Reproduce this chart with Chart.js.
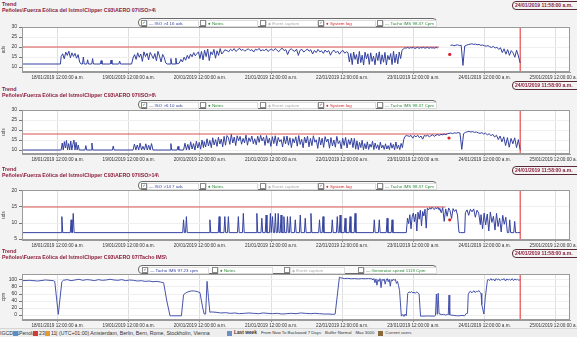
<!DOCTYPE html>
<html>
<head>
<meta charset="utf-8">
<script src="https://cdn.jsdelivr.net/npm/chart.js@4.4.1/dist/chart.umd.min.js"></script>
<style>
  html, body { margin: 0; padding: 0; background: #f3f3f3; }
  #wrap { position: relative; width: 577px; height: 337px; overflow: hidden; background: #f3f3f3;
          font-family: "Liberation Sans", Arial, sans-serif; }
  .abs { position: absolute; white-space: nowrap; line-height: 1; }
  .ttl { left: 2px; color: #8c1c3c; font-weight: bold; font-size: 5.3px; }
  .date { position: absolute; left: 512px; width: 72px; height: 7px; border: 1px solid #5a2a3a; border-radius: 4px;
          color: #8c1c3c; font-weight: bold; font-size: 5px; line-height: 7px; padding-left: 2px; white-space: nowrap; }
  .leg { position: absolute; left: 138px; width: 297px; height: 7px; border: 1px solid #6a6a6a; border-radius: 4px; background: #fafafa; }
  .leg .fld { position: absolute; top: 1px; height: 5px; border: 1px solid #dcdcdc; background: #fff;
              font-size: 4.4px; line-height: 5px; white-space: nowrap; padding-left: 1px; overflow: hidden; }
  .leg .cb { position: absolute; top: 1px; width: 4px; height: 4px; border: 1px solid #8a8a8a; background: #fff;
             font-size: 4px; line-height: 4px; text-align: center; color: #222; font-family: "DejaVu Sans"; }
  canvas { position: absolute; left: 0; }
  #status { position: absolute; left: 0; top: 328px; width: 577px; height: 9px; background: #eeeeee; border-top: 1px solid #d6d6d6;
            font-size: 5.2px; color: #333; }
  #status .s { position: absolute; top: 2px; white-space: nowrap; line-height: 1; }
  #status .ic { position: absolute; top: 2px; width: 5px; height: 5px; }
  #status .row { position: absolute; top: 2px; left: 227px; display: flex; align-items: center; white-space: nowrap; line-height: 1; font-size: 4.3px; }
  #status .row span { margin-right: 4px; }
  #status .row b { font-size: 4.8px; }
  #status .row i { display: inline-block; width: 5px; height: 5px; margin-right: 2px; }
</style>
</head>
<body>
<div id="wrap"></div>
<script>
// ---- time axis: days counted from 18/01/2019 00:00 ----
const dayTicks = [0, 1, 2, 3, 4, 5, 6, 7];
const dayLabels = [
  '18/01/2019 12:00:00 a.m.', '19/01/2019 12:00:00 a.m.', '20/01/2019 12:00:00 a.m.', '21/01/2019 12:00:00 a.m.',
  '22/01/2019 12:00:00 a.m.', '23/01/2019 12:00:00 a.m.', '24/01/2019 12:00:00 a.m.', '25/01/2019 12:00:00 a.m.'
];
const viewStart = -0.5;     // 17/01/2019 12:00
const viewEnd = 7.2;
const nowDay = 6.5;         // 24/01/2019 11:58:00 a.m.
const nowLabel = '24/01/2019 11:58:00 a.m.';

// ---- series: runs of [from day, to day, samples] ----
const iso4Runs = [
  [-0.5, 0.04, [11.5, 11.5]],
  [0.05, 0.31, [15.2, 16.6, 14.1, 17.4, 15.8, 17.9, 14.6, 17.1, 15.3, 16.8, 14.4, 16.2, 12.5]],
  [0.33, 0.33, [11.5]],
  [0.35, 0.374, [11.5, 15, 11.5]],
  [0.41, 0.434, [11.5, 13.6, 11.5]],
  [0.48, 0.504, [11.5, 14.2, 11.5]],
  [0.60, 0.624, [11.5, 13.2, 11.5]],
  [0.74, 0.764, [11.5, 13.5, 11.5]],
  [0.86, 0.884, [11.5, 13, 11.5]],
  [1.04, 1.04, [11.5]],
  [1.06, 1.52, [14.5, 16.2, 13.8, 17.1, 14.9, 16.5, 12.8, 17.6, 15.2, 16.9, 13.5, 17.3, 15.8, 14.2, 16.7, 13.1, 17.8, 15.4, 12.5, 16.3, 14.8, 12]],
  [1.54, 1.54, [11.5]],
  [1.58, 1.604, [11.5, 14.2, 11.5]],
  [1.65, 1.674, [11.5, 14.5, 11.5]],
  [1.71, 1.98, [12, 13.8, 12.5, 14.9, 13.4, 15.8, 14.2, 16.5, 15.1, 17.2, 15.6, 16.8, 17.5]],
  [2.0, 2.35, [14.2, 17.8, 13.5, 18.4, 15.2, 19, 13.2, 17.6, 16.2, 18.8, 14.4, 18.1, 15.8, 19.2, 16.5, 17.4, 18.6]],
  [2.38, 4.06, [18.2, 17.6, 18.9, 18.1, 19.2, 17.8, 18.5, 19.4, 18.3, 18.8, 17.9, 18.6, 19.1, 18.2, 18.7, 17.5, 18.9, 18.4,
                19.3, 18, 18.6, 18.2, 19, 17.8, 18.5, 18.9, 18.1, 19.2, 18.4, 17.6, 18.8, 19.4, 18.2, 18.7, 16.2, 18.5, 19.1,
                18.3, 17.8, 18.9, 15.8, 18.4, 18.8, 17.5, 18.2, 19, 17.9, 18.6, 16.5, 18.3, 17.2, 18.8, 17.6, 18.1, 16.8,
                18.5, 17.4, 18.2, 15.9, 17.8, 18.4, 17.1, 18, 16.4, 17.7, 18.3, 16.9, 17.6]],
  [4.08, 4.88, [17.2, 12.5, 16.8, 11.2, 17.5, 13.8, 16.2, 11.5, 17.8, 12.2, 15.9, 11, 17.4, 14.1, 16.6, 11.3, 17.1, 12.8,
                15.4, 11.1, 16.9, 13.2, 17.6, 11.4, 16.1, 12.4, 17.3, 11, 15.8, 13.6, 16.7, 11.2, 17.9, 12.1, 16.4, 11.6,
                17.5, 14.2, 18.3, 19.1, 19.6]],
  [4.9, 5.34, [19.4, 19.8, 19.3, 19.7, 19.5, 19.9, 19.2, 19.6, 19.8, 19.3, 19.7, 19.5, 19.9, 19.4, 19.6, 19.8, 19.3, 19.7,
               19.5, 19.6, 19.4, 19.8, 19.5]],
  [5.38, 5.38, null],
  [5.52, 6.5, [20.8, 21, 20.6, 20.9, 21.1, 20.7, 20.9, 10.8, 20.5, 20.9, 21.2, 21.4, 21.6, 21.3, 21.5, 21.1, 21.3, 20.8,
               21, 20.6, 20.4, 20.7, 20.1, 19.8, 20.3, 19.5, 19.9, 18.8, 19.6, 17.2, 19.1, 16.4, 18.7, 15.8, 18.2, 17.1,
               14.9, 18.4, 15.5, 12]]
];
const iso4Limit = 20, iso4LimitEnd = 5.36;
const iso4Log = [[5.51, 16.3]];

const iso6Runs = [
  [-0.5, 0.04, [10, 10]],
  [0.05, 0.305, [10, 13.5, 10, 14.2, 11, 14.8, 10, 13.2, 10, 14.5, 10, 12.8, 15, 10, 13.9, 10, 12.5, 10]],
  [0.385, 0.409, [10, 12.2, 10]],
  [0.47, 0.494, [10, 13.5, 10]],
  [0.77, 0.794, [10, 12, 10]],
  [1.06, 1.34, [10, 13, 10, 12.5, 10, 13.4, 10, 11.8, 10, 13.1, 10, 12.4, 10, 13.2, 10]],
  [1.58, 1.604, [10, 13.2, 10]],
  [1.68, 1.704, [10, 11.8, 10]],
  [1.77, 2.05, [10, 13.4, 10, 12.8, 10, 14.1, 10.5, 13.2, 10, 14.4, 11, 13.8, 10.4, 15, 11.2]],
  [2.06, 2.38, [14.2, 11.5, 15.6, 12, 14.8, 11.2, 16.1, 12.5, 15.2, 11.8, 16.4, 13, 15.5, 11.6, 16.8, 12.4, 17.2]],
  [2.4, 4.15, [16.2, 12.8, 17.8, 13.5, 16.5, 12.2, 17.1, 14.6, 16.8, 12.9, 15.8, 13.6, 17.4, 12.4, 16.1, 14.2, 17, 13.1,
               15.6, 12.6, 16.9, 13.8, 17.3, 14.5, 16.4, 12.3, 17.2, 13.4, 15.9, 11.8, 16.7, 13.2, 17.1, 12.1, 16.3, 14.1,
               15.2, 11.5, 16.8, 13, 17, 12.4, 16.1, 11.2, 15.7, 13.6, 16.6, 11.9, 17.2, 12.8, 15.4, 11.1, 16.5, 13.5,
               16.9, 11.6, 15.8, 12.2, 17.1, 13.9, 15.1, 10.8, 16.4, 12.5, 15.9, 11.3, 16.7, 14, 15.5, 10.9, 16.2, 12,
               15, 11.4, 16.8, 13.2, 14.6, 10.6, 15.9, 12.3, 16.3, 11, 15.2, 12.7, 16, 11.2]],
  [4.17, 4.9, [15.8, 10.4, 14.6, 10.2, 13.8, 11.2, 14.9, 10.1, 13.2, 10.6, 14.1, 10.3, 12.9, 11.4, 14.4, 10.2, 13.5, 10.8,
               12.6, 10.1, 13.9, 11, 12.4, 10.3, 13.1, 10.5, 12.2, 10.2, 13.6, 10.9, 12.8, 10.1, 14, 10.7, 12.5, 10.2,
               13.3, 11.2, 15.2, 16.8, 17.2]],
  [4.92, 5.48, [17.1, 16.8, 17.3, 15.9, 17.2, 16.6, 17.4, 16.2, 17, 15.4, 17.3, 16.9, 17.5, 16.5, 17.2, 17.6, 16.8, 17.4,
                17.7, 17.3, 17.8, 17.6, 18, 17.7, 18.2]],
  [5.5, 6.5, [18.3, 18.5, 18.2, 18.6, 18.4, 18.7, 18.5, 10.3, 18.2, 18.8, 19.1, 19.3, 19, 19.2, 18.8, 19, 18.6, 18.3, 18.7,
              18, 18.4, 17.6, 18.1, 17.2, 17.8, 16.5, 17.4, 15.2, 17, 14.1, 16.6, 12.2, 16.2, 11.4, 15.8, 13.1, 16.1,
              11.2, 15.2, 10.1]]
];
const iso6Limit = 18, iso6LimitEnd = 5.48;
const iso6Log = [[5.5, 16]];

// ISO>14: short bursts above the 7 uds base level
const iso14Base = 7;
const iso14Spikes = [
  [0.06, 12], [0.19, 11], [0.22, 13], [1.77, 11], [1.81, 12], [2.14, 11], [2.27, 12], [2.35, 12], [2.40, 12],
  [2.54, 12], [2.61, 13], [2.80, 13], [2.87, 11.5], [2.93, 12.5], [2.99, 13], [3.02, 12], [3.06, 13], [3.10, 13],
  [3.14, 12.5], [3.18, 12], [3.23, 12], [3.27, 12], [3.34, 11], [3.41, 12.5], [3.48, 11.5], [3.56, 13], [3.68, 11],
  [3.73, 12], [3.86, 11], [3.93, 12], [3.97, 12.5], [4.04, 11.5], [4.11, 12], [4.18, 13], [4.45, 11], [4.52, 11],
  [4.63, 11.5], [4.70, 11]
];
const iso14Runs = [
  [4.9, 5.36, [7, 11.5, 9.8, 12.6, 8.2, 11.9, 13.1, 10.4, 12.8, 7.5, 13.4, 11.2, 14, 9.1, 13.6, 12.2, 14.3, 8.4, 14.6,
               14.1, 14.8, 14.3, 14.9, 14.5, 14.2, 14.8, 14.4, 14.9, 14.1]],
  [5.37, 5.64, [14.6, 13.2, 14.8, 10.5, 14.4, 12.1, 14.7, 13.8, 11.4, 14.5, 13.6, 14.2, 12.5, 7.1]],
  [5.66, 5.72, [7, 7]],
  [5.73, 5.94, [13.2, 14.1, 12.4, 14.3, 13.5, 14.4, 11.8, 14, 13.1, 9.5]],
  [5.95, 6.32, [12.6, 8.2, 13.1, 9.4, 12.8, 7.5, 13.4, 10.2, 12.1, 7.8, 13, 8.9, 11.5, 7.2, 12.4, 9.6, 11.8, 7]],
  [6.34, 6.366, [7, 11, 7]],
  [6.41, 6.436, [7, 10.5, 7]],
  [6.46, 6.5, [7, 7]]
];
const iso14Limit = 15, iso14LimitEnd = 5.45;
const iso14Log = [[5.51, 11]];

const tachoRuns = [
  [-0.5, -0.06, [98, 99, 97, 100, 98]],
  [-0.04, 0.06, [96, 2, 95]],
  [0.08, 1.45, [99, 101, 98, 100, 102, 99, 101, 100, 98, 101, 99, 100, 102, 100, 99, 101, 98, 100, 99, 97, 98, 96, 97, 95, 96, 94]],
  [1.49, 1.58, [92, 40, -2]],
  [1.6, 1.74, [-2, -2]],
  [1.77, 2.0, [58, 64, 67, 69, 68.5, 67, 64]],
  [2.04, 2.06, [20, 3]],
  [2.08, 2.14, [3, 96, 50, 8]],
  [2.16, 3.88, [9, 8, 6, 7, 5, 6, 4, 5, 6, 5, 4, 6, 5, 4, 5, 3, 4, 5, 4, 6, 5, 4, 5, 4, 3, 3, 2]],
  [3.9, 3.96, [3, 108]],
  [3.98, 4.42, [106, 104, 104.5, 103.5, 104, 103, 104, 103.5, 104.2, 103]],
  [4.43, 4.79, [100, 104, 92, 103, 85, 101, 96, 104, 78, 102, 98, 103, 88, 100, 104, 95, 102, 82, 101, 97, 103, 99, 102, 90, 96, 85]],
  [4.805, 4.83, [70, -3]],
  [4.85, 4.9, [2, -4, 3, -2]],
  [4.92, 5.08, [62, 66, 64, 67, 63, 65, 62, 66, 64, 60]],
  [5.1, 5.3, [-3, -2.5, -3]],
  [5.31, 5.36, [0, 60, 2, 62, 4]],
  [5.37, 5.48, [3, 1, 2, 0, 2]],
  [5.49, 5.51, [1, 57, 1]],
  [5.53, 5.72, [0, -1, -2, -2, -1, -2]],
  [5.74, 5.76, [4, 5]],
  [5.77, 5.95, [58, 66, 68, 63, 67, 69, 64, 68, 66, 70, 65, 62]],
  [5.96, 5.99, [30, 3]],
  [6.01, 6.04, [50, 100]],
  [6.05, 6.5, [102, 98, 104, 99, 103, 97, 104, 100, 103, 98, 102, 101, 104, 97, 103, 100, 102, 99, 104, 98, 103, 100, 102, 99, 101]]
];

const iso4Ticks = [10, 15, 20, 25, 30];
const iso6Ticks = [10, 15, 20, 25, 30];
const iso14Ticks = [5, 10, 15, 20];
const tachoTicks = [0, 20, 40, 60, 80, 100];

const panelPaths = [
  'Peñoles\\Fuerza Eólica del Istmo\\Clipper C93\\AERO 07\\ISO>4\\',
  'Peñoles\\Fuerza Eólica del Istmo\\Clipper C93\\AERO 07\\ISO>6\\',
  'Peñoles\\Fuerza Eólica del Istmo\\Clipper C93\\AERO 07\\ISO>14\\',
  'Peñoles\\Fuerza Eólica del Istmo\\Clipper C93\\AERO 07\\Tacho IMS\\'
];
const seriesNames = ['ISO >4 16 uds', 'ISO >6 10 uds', 'ISO >14 7 uds', 'Tacho IMS 97.23 cpm'];

// ---- helpers ----
const BLUE = '#3442a0', RED = '#d8262b', GREEN = '#2e8a3a', MAROON = '#8c1c3c';

function runsToPoints(runs) {
  const pts = [];
  for (const [t0, t1, vals] of runs) {
    if (vals === null) { pts.push({ x: t0, y: null }); continue; }
    const n = vals.length;
    vals.forEach((v, i) => pts.push({ x: n > 1 ? t0 + (t1 - t0) * i / (n - 1) : t0, y: v }));
  }
  return pts;
}

function spikesToRuns(base, spikes, extra) {
  const runs = [[-0.5, -0.5, [base]]];
  spikes.forEach(([t, h]) => runs.push([t - 0.012, t + 0.012, [base, h, base]]));
  return runs.concat(extra);
}

const wrap = document.getElementById('wrap');

function addEl(tag, cls, style, html) {
  const el = document.createElement(tag);
  if (cls) el.className = cls;
  Object.assign(el.style, style);
  if (html !== undefined) el.innerHTML = html;
  wrap.appendChild(el);
  return el;
}

function header(top, path) {
  addEl('div', 'abs ttl', { top: top + 'px' }, 'Trend');
  addEl('div', 'abs ttl', { top: (top + 6) + 'px' }, path);
}

function dateBox(top) {
  addEl('div', 'date', { top: top + 'px' }, nowLabel);
}

function legendBox(top, items) {
  const box = addEl('div', 'leg', { top: top + 'px' });
  for (const it of items) {
    const cb = document.createElement('div');
    cb.className = 'cb';
    cb.style.left = (it.x - 138) + 'px';
    cb.textContent = it.checked ? '✓' : '';
    box.appendChild(cb);
    const f = document.createElement('div');
    f.className = 'fld';
    f.style.left = (it.x - 138 + 6) + 'px';
    f.style.width = it.w + 'px';
    f.style.color = it.color;
    f.innerHTML = '<span style="color:' + it.markColor + '">' + it.mark + '</span> ' + it.text;
    box.appendChild(f);
  }
}

// plot frame and white plotting background
const framePlugin = {
  id: 'frame',
  beforeDraw(chart) {
    const { ctx, chartArea: a } = chart;
    ctx.save();
    ctx.fillStyle = '#ffffff';
    ctx.fillRect(a.left, a.top, a.right - a.left, a.bottom - a.top);
    ctx.restore();
  },
  afterDraw(chart) {
    const { ctx, chartArea: a } = chart;
    ctx.save();
    ctx.strokeStyle = '#9a9a9a';
    ctx.lineWidth = 1;
    ctx.strokeRect(Math.round(a.left) + 0.5, Math.round(a.top) + 0.5, Math.round(a.right - a.left) - 1, Math.round(a.bottom - a.top) - 1);
    ctx.restore();
  }
};

function panelChart(top, height, cfg) {
  const cv = document.createElement('canvas');
  cv.width = 577; cv.height = height;
  cv.style.top = top + 'px';
  wrap.appendChild(cv);

  const datasets = [];
  if (cfg.log) datasets.push({
    data: cfg.log.map(([x, y]) => ({ x, y })), showLine: false, pointRadius: 1.6, pointBackgroundColor: RED,
    pointBorderWidth: 0, borderColor: RED
  });
  datasets.push({ data: runsToPoints(cfg.runs), borderColor: cfg.lineColor || BLUE, borderWidth: 1, pointRadius: 0, spanGaps: false });
  if (cfg.limit !== undefined) datasets.push({
    data: [{ x: viewStart, y: cfg.limit }, { x: cfg.limitEnd, y: cfg.limit }], borderColor: '#d9534f', borderWidth: 1, pointRadius: 0
  });
  datasets.push({ data: [{ x: nowDay, y: cfg.min }, { x: nowDay, y: cfg.max }], borderColor: '#e0282c', borderWidth: 1, pointRadius: 0 });

  const font = { family: 'Liberation Sans', size: 4.6 };
  new Chart(cv, {
    type: 'line',
    data: { datasets },
    plugins: [framePlugin],
    options: {
      responsive: false, animation: false, events: [],
      layout: { autoPadding: false, padding: { top: 4, right: 7, left: 0, bottom: 0 } },
      elements: { line: { tension: 0 } },
      plugins: { legend: { display: false }, tooltip: { enabled: false } },
      scales: {
        x: {
          type: 'linear', min: viewStart, max: viewEnd,
          afterBuildTicks: s => { s.ticks = dayTicks.map(v => ({ value: v })); },
          afterFit: s => { s.height = cfg.xh; s.paddingLeft = 0; s.paddingRight = 0; },
          ticks: { callback: v => dayLabels[dayTicks.indexOf(v)], maxRotation: 0, autoSkip: false, padding: 1, color: '#333', font },
          grid: { color: '#dedede', tickLength: 2, tickColor: '#888' },
          border: { color: '#9a9a9a' }
        },
        y: {
          type: 'linear', min: cfg.min, max: cfg.max,
          afterBuildTicks: s => { s.ticks = cfg.ticks.map(v => ({ value: v })); },
          afterFit: s => { s.width = 22; },
          ticks: { padding: 2, color: '#333', font: { family: 'Liberation Sans', size: 5 } },
          grid: { color: '#efefef', tickLength: 3, tickColor: '#777' },
          border: { color: '#9a9a9a' },
          title: { display: true, text: cfg.unit, color: '#444', padding: { top: 1, bottom: 0 }, font: { family: 'Liberation Sans', size: 4.6 } }
        }
      }
    }
  });
}

// ---- panel 1: ISO >4 ----
header(2, panelPaths[0]);
dateBox(1);
panelChart(22, 60, { runs: iso4Runs, min: 7.5, max: 30, ticks: iso4Ticks, unit: 'uds', limit: iso4Limit, limitEnd: iso4LimitEnd, log: iso4Log, xh: 10 });

// ---- panel 2: ISO >6 ----
header(87, panelPaths[1]);
dateBox(81);
panelChart(105, 60, { runs: iso6Runs, min: 8, max: 30, ticks: iso6Ticks, unit: 'uds', limit: iso6Limit, limitEnd: iso6LimitEnd, log: iso6Log, xh: 11 });

// ---- panel 3: ISO >14 ----
header(167, panelPaths[2]);
dateBox(166);
panelChart(185, 65, { runs: spikesToRuns(iso14Base, iso14Spikes, iso14Runs), min: 4.7, max: 20.3, ticks: iso14Ticks, unit: 'uds', limit: iso14Limit, limitEnd: iso14LimitEnd, log: iso14Log, xh: 10 });

// ---- panel 4: Tacho IMS ----
header(249, panelPaths[3]);
dateBox(249);
panelChart(269, 61, { runs: tachoRuns, min: -14, max: 117, ticks: tachoTicks, unit: 'cpm', lineColor: '#4654ad', xh: 10 });

// ---- legends (drawn over the chart canvases) ----
function isoLegend(name) {
  return [
    { x: 140, w: 49, checked: true, mark: '—', markColor: BLUE, text: name, color: BLUE },
    { x: 199, w: 49, checked: false, mark: '●', markColor: GREEN, text: 'Notes', color: GREEN },
    { x: 259, w: 49, checked: false, mark: '◆', markColor: '#bbb', text: 'Event capture', color: '#aaa' },
    { x: 317, w: 49, checked: true, mark: '●', markColor: RED, text: 'System log', color: RED },
    { x: 376, w: 51, checked: false, mark: '—', markColor: GREEN, text: 'Tacho IMS 98.37 Cpm', color: GREEN }
  ];
}
legendBox(18, isoLegend(seriesNames[0]));
legendBox(100, isoLegend(seriesNames[1]));
legendBox(181, isoLegend(seriesNames[2]));
legendBox(265, [
  { x: 141, w: 58, checked: true, mark: '—', markColor: BLUE, text: seriesNames[3], color: BLUE },
  { x: 211, w: 52, checked: false, mark: '●', markColor: GREEN, text: 'Notes', color: GREEN },
  { x: 283, w: 52, checked: false, mark: '◆', markColor: '#bbb', text: 'Event capture', color: '#aaa' },
  { x: 357, w: 70, checked: false, mark: '—', markColor: GREEN, text: 'Generator speed 1119 Cpm', color: GREEN }
]);

// ---- status bar ----
const status = addEl('div', '', {}, '');
status.id = 'status';
const statusItems = [
  ['s', 0, 'IGCDB1'], ['ic', 13, '#5b8fc7'], ['s', 19, 'Penola'], ['ic', 33, '#d23a3a'], ['s', 39, '23'],
  ['ic', 45, '#e59a2e'], ['s', 51, '11'], ['s', 56, '|'],
  ['s', 59, '(UTC+01:00) Amsterdam, Berlin, Bern, Rome, Stockholm, Vienna']
];
for (const [kind, x, v] of statusItems) {
  const el = document.createElement('div');
  el.className = kind;
  el.style.left = x + 'px';
  if (kind === 'ic') el.style.background = v; else el.innerHTML = v;
  status.appendChild(el);
}
const row = document.createElement('div');
row.className = 'row';
row.innerHTML = '<i style="background:#6f8fc4"></i><span><b>Last week</b></span><span>From Now To Backward 7 Days</span>' +
  '<span>Buffer Normal</span><span>Max 3000</span><i style="background:#8a6a3a"></i><span>Current users</span>';
status.appendChild(row);
</script>
</body>
</html>
